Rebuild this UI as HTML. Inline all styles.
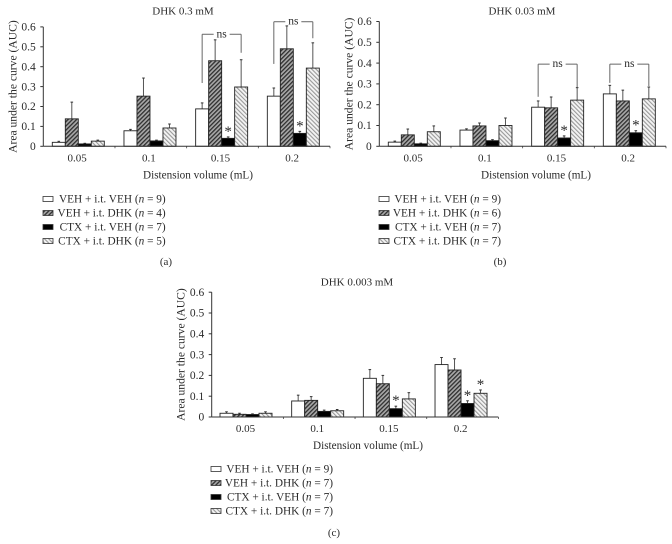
<!DOCTYPE html>
<html>
<head>
<meta charset="utf-8">
<title>DHK charts</title>
<style>
html,body{margin:0;padding:0;background:#fff;}
svg{display:block;}
text{font-family:"Liberation Serif",serif;fill:#2a2a2a;font-size:11px;}
</style>
</head>
<body>
<svg id="chart" width="672" height="544" viewBox="0 0 672 544" xmlns="http://www.w3.org/2000/svg" style="filter:blur(0.25px)">
<defs>
<pattern id="hatch-dark" width="3" height="3" patternUnits="userSpaceOnUse" patternTransform="rotate(45)">
<rect width="3" height="3" fill="#a8a8a8"/>
<rect width="1.3" height="3" fill="#2e2e2e"/>
</pattern>
<pattern id="hatch-light" width="3" height="3" patternUnits="userSpaceOnUse" patternTransform="rotate(-45)">
<rect width="3" height="3" fill="#f4f4f4"/>
<rect width="1.1" height="3" fill="#999999"/>
</pattern>
</defs>
</svg>
<script>
const categories = ['0.05', '0.1', '0.15', '0.2'];
const yTicks = [0, 0.1, 0.2, 0.3, 0.4, 0.5, 0.6];
const yTickLabels = ['0', '0.1', '0.2', '0.3', '0.4', '0.5', '0.6'];
const seriesFills = ['#ffffff', 'url(#hatch-dark)', '#000000', 'url(#hatch-light)'];

const aVehVeh = [0.02, 0.078, 0.188, 0.252];
const aVehDhk = [0.138, 0.252, 0.43, 0.49];
const aCtxVeh = [0.012, 0.027, 0.04, 0.065];
const aCtxDhk = [0.026, 0.092, 0.298, 0.393];
const aVehVehErr = [0.005, 0.007, 0.03, 0.041];
const aVehDhkErr = [0.084, 0.091, 0.105, 0.115];
const aCtxVehErr = [0.003, 0.004, 0.007, 0.01];
const aCtxDhkErr = [0.005, 0.02, 0.137, 0.127];

const bVehVeh = [0.02, 0.078, 0.188, 0.252];
const bVehDhk = [0.055, 0.098, 0.185, 0.218];
const bCtxVeh = [0.012, 0.027, 0.04, 0.065];
const bCtxDhk = [0.07, 0.1, 0.222, 0.228];
const bVehVehErr = [0.005, 0.006, 0.03, 0.041];
const bVehDhkErr = [0.028, 0.014, 0.052, 0.052];
const bCtxVehErr = [0.003, 0.005, 0.01, 0.01];
const bCtxDhkErr = [0.028, 0.036, 0.06, 0.057];

const cVehVeh = [0.018, 0.077, 0.186, 0.252];
const cVehDhk = [0.013, 0.08, 0.16, 0.226];
const cCtxVeh = [0.012, 0.027, 0.04, 0.065];
const cCtxDhk = [0.018, 0.03, 0.087, 0.114];
const cVehVehErr = [0.007, 0.028, 0.042, 0.034];
const cVehDhkErr = [0.005, 0.018, 0.04, 0.054];
const cCtxVehErr = [0.003, 0.006, 0.012, 0.013];
const cCtxDhkErr = [0.007, 0.006, 0.03, 0.016];

const NS = 'http://www.w3.org/2000/svg';
const root = document.getElementById('chart');

function make(parent, tag, attrs, txt) {
  const el = document.createElementNS(NS, tag);
  for (const k in attrs) el.setAttribute(k, attrs[k]);
  if (txt !== undefined) el.textContent = txt;
  parent.appendChild(el);
  return el;
}

function line(parent, name, x1, y1, x2, y2, color, w) {
  const el = make(parent, 'line', {x1: x1, y1: y1, x2: x2, y2: y2, stroke: color, 'stroke-width': w});
  
  
  return el;
}

function label(parent, name, x, y, anchor, content, size) {
  const el = make(parent, 'text', {x: x, y: y, 'text-anchor': anchor}, content);
  if (size) el.style.fontSize = size + 'px';
  
  
  return el;
}

function drawPanel(p) {
  const g = make(root, 'g', {});
  
  
  const band = p.width / categories.length;
  const xScale = function (c, s) { return p.x0 + c * band + p.inset + s * 13; };
  const yScale = function (v) { return p.y0 - v * p.unit; };

  label(g, p.id + '-title', p.titleX, p.titleY, 'middle', p.title);

  for (let c = 0; c < categories.length; c++) {
    for (let s = 0; s < 4; s++) {
      const x = xScale(c, s), v = p.series[s][c], top = v + p.errors[s][c];
      line(g, p.id + '-error-bar', x + 6.5, yScale(v), x + 6.5, yScale(top), '#555', 1);
      line(g, p.id + '-error-cap', x + 5.2, yScale(top), x + 7.8, yScale(top), '#333', 1);
      const bar = make(g, 'rect', {x: x, y: yScale(v), width: 13, height: v * p.unit, fill: seriesFills[s], stroke: '#222', 'stroke-width': 0.9});
      
      
    }
    label(g, p.id + '-x-tick-label', p.x0 + (c + 0.5) * band - 2, p.y0 + 15, 'middle', categories[c]);
    line(g, p.id + '-x-tick', p.x0 + (c + 1) * band, p.y0, p.x0 + (c + 1) * band, p.y0 + 2, '#444', 0.8);
  }

  line(g, p.id + '-x-axis', p.x0, p.y0, p.x0 + p.width, p.y0, '#333', 1);
  line(g, p.id + '-y-axis', p.x0, p.y0, p.x0, yScale(0.6), '#333', 1);
  for (let i = 0; i < yTicks.length; i++) {
    line(g, p.id + '-y-tick', p.x0 - 3, yScale(yTicks[i]), p.x0, yScale(yTicks[i]), '#333', 1);
    label(g, p.id + '-y-tick-label', p.x0 - 7.5, yScale(yTicks[i]) + 3.7, 'end', yTickLabels[i], 11.5);
  }

  const yt = label(g, p.id + '-y-axis-title', 0, 0, 'middle', 'Area under the curve (AUC)', 11.6);
  yt.setAttribute('transform', 'translate(' + (p.x0 - 27) + ',' + ((p.y0 + yScale(0.6)) / 2) + ') rotate(-90)');
  label(g, p.id + '-x-axis-title', p.xTitleX, p.y0 + 32, 'middle', 'Distension volume (mL)', 11.2);

  p.stars.forEach(function (st) {
    const v = p.series[st[1]][st[0]] + p.errors[st[1]][st[0]];
    label(g, p.id + '-significance-star', xScale(st[0], st[1]) + 6.5, yScale(v) - 1, 'middle', '*', 15);
  });

  p.brackets.forEach(function (b) {
    const lx = xScale(b[0], 0) + 6.5, rx = xScale(b[0], 3) + 6.5, mx = (lx + rx) / 2;
    line(g, p.id + '-bracket-left', lx, yScale(b[1]), lx, yScale(b[2]), '#666', 1);
    line(g, p.id + '-bracket-top-left', lx, yScale(b[2]), mx - 8, yScale(b[2]), '#666', 1);
    line(g, p.id + '-bracket-top-right', mx + 8, yScale(b[2]), rx, yScale(b[2]), '#666', 1);
    line(g, p.id + '-bracket-right', rx, yScale(b[2]), rx, yScale(b[3]), '#666', 1);
    label(g, p.id + '-ns-label', mx, yScale(b[2]) + 3, 'middle', 'ns', 11.5);
  });

  p.legend.forEach(function (entry, i) {
    const y = p.legendY + i * 14;
    const sw = make(g, 'rect', {x: p.legendX, y: y - 2.5, width: 10, height: 5, fill: seriesFills[i], stroke: '#333', 'stroke-width': 0.8});
    
    
    const t = make(g, 'text', {x: p.legendEnd, y: y + 3.7, 'text-anchor': 'end'});
    t.style.fontSize = '11.3px';
    
    
    make(t, 'tspan', {}, entry[0] + ' (');
    make(t, 'tspan', {'font-style': 'italic'}, 'n');
    make(t, 'tspan', {}, ' =  ' + entry[1] + ')');
  });

  label(g, p.id + '-panel-letter', p.letterX, p.letterY, 'middle', p.letter);
}

drawPanel({
  id: 'panel-a', title: 'DHK 0.3 mM', titleX: 183, titleY: 14.5, x0: 43.3, y0: 146.3, width: 286.7, unit: 199, inset: 9,
  xTitleX: 198,
  series: [aVehVeh, aVehDhk, aCtxVeh, aCtxDhk],
  errors: [aVehVehErr, aVehDhkErr, aCtxVehErr, aCtxDhkErr],
  stars: [[2, 2], [3, 2]],
  brackets: [[2, 0.318, 0.563, 0.47], [3, 0.414, 0.626, 0.543]],
  legend: [['VEH + i.t. VEH', 9], ['VEH + i.t. DHK', 4], ['CTX + i.t. VEH', 7], ['CTX + i.t. DHK', 5]],
  legendX: 43, legendY: 199, legendEnd: 165.7, letter: '(a)', letterX: 166, letterY: 265
});
drawPanel({
  id: 'panel-b', title: 'DHK 0.03 mM', titleX: 522, titleY: 14.5, x0: 379.3, y0: 146.3, width: 286.7, unit: 208, inset: 9,
  xTitleX: 536,
  series: [bVehVeh, bVehDhk, bCtxVeh, bCtxDhk],
  errors: [bVehVehErr, bVehDhkErr, bCtxVehErr, bCtxDhkErr],
  stars: [[2, 2], [3, 2]],
  brackets: [[2, 0.238, 0.395, 0.285], [3, 0.305, 0.395, 0.29]],
  legend: [['VEH + i.t. VEH', 9], ['VEH + i.t. DHK', 6], ['CTX + i.t. VEH', 7], ['CTX + i.t. DHK', 7]],
  legendX: 379, legendY: 199, legendEnd: 501, letter: '(b)', letterX: 500, letterY: 265
});
drawPanel({
  id: 'panel-c', title: 'DHK 0.003 mM', titleX: 357, titleY: 285.5, x0: 211.7, y0: 417, width: 286.7, unit: 208, inset: 8.3,
  xTitleX: 368,
  series: [cVehVeh, cVehDhk, cCtxVeh, cCtxDhk],
  errors: [cVehVehErr, cVehDhkErr, cCtxVehErr, cCtxDhkErr],
  stars: [[2, 2], [3, 2], [3, 3]],
  brackets: [],
  legend: [['VEH + i.t. VEH', 9], ['VEH + i.t. DHK', 7], ['CTX + i.t. VEH', 7], ['CTX + i.t. DHK', 7]],
  legendX: 211, legendY: 469, legendEnd: 333, letter: '(c)', letterX: 334, letterY: 536
});
</script>
</body>
</html>
